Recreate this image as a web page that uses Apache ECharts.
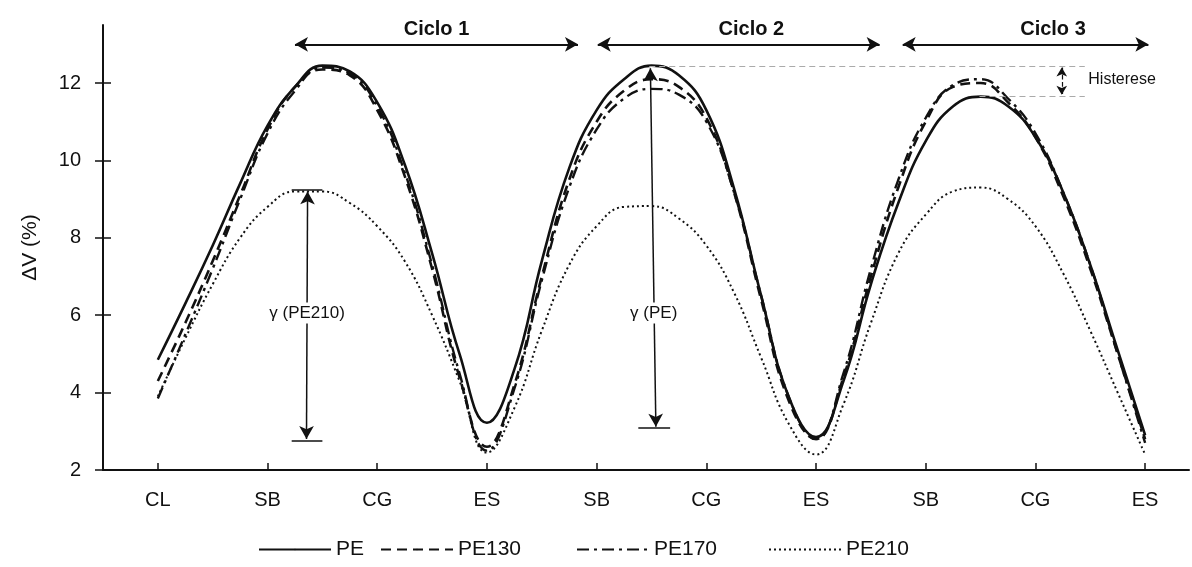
<!DOCTYPE html>
<html>
<head>
<meta charset="utf-8">
<script src="https://cdn.jsdelivr.net/npm/echarts@6/dist/echarts.min.js"></script>
<style>
  html, body { margin: 0; padding: 0; background: #fff; }
  #chart { width: 1192px; height: 567px; }
</style>
</head>
<body>
<div id="chart"></div>
<script>
// stage labels on the x axis (one per tick, 0..9)
var stages = ['CL', 'SB', 'CG', 'ES', 'SB', 'CG', 'ES', 'SB', 'CG', 'ES'];
// x positions of the read values (quarter steps between stages)
var xs = [0, 0.25, 0.5, 0.75, 1, 1.25, 1.5, 1.75, 2, 2.25, 2.5, 2.75, 3,
          3.25, 3.5, 3.75, 4, 4.25, 4.5, 4.75, 5, 5.25, 5.5, 5.75, 6,
          6.25, 6.5, 6.75, 7, 7.25, 7.5, 7.75, 8, 8.25, 8.5, 8.75, 9];
var yTicks = [2, 4, 6, 8, 10, 12];

// ΔV (%)
var pe    = [4.85, 6.3, 7.8, 9.4, 10.9, 11.9, 12.45, 12.3, 11.5, 9.9, 7.6, 5.0, 3.22,
             4.6, 7.4, 9.8, 11.3, 12.1, 12.45, 12.2, 11.3, 9.3, 6.5, 3.9, 2.85,
             4.3, 6.8, 8.9, 10.5, 11.4, 11.65, 11.4, 10.6, 9.2, 7.3, 5.1, 2.9];
var pe130 = [4.3, 5.8, 7.4, 9.1, 10.8, 11.9, 12.35, 12.2, 11.3, 9.6, 7.2, 4.4, 2.6,
             4.2, 7.0, 9.5, 11.0, 11.8, 12.1, 11.9, 11.1, 9.2, 6.4, 3.8, 2.8,
             4.4, 7.0, 9.3, 11.0, 11.9, 12.0, 11.5, 10.6, 9.1, 7.2, 5.0, 2.8];
var pe170 = [3.85, 5.5, 7.2, 9.0, 10.7, 11.8, 12.4, 12.25, 11.4, 9.7, 7.3, 4.5, 2.5,
             4.1, 6.9, 9.3, 10.8, 11.6, 11.85, 11.7, 11.0, 9.2, 6.5, 3.9, 2.8,
             4.5, 7.2, 9.5, 11.1, 11.95, 12.1, 11.6, 10.7, 9.2, 7.3, 5.0, 2.7];
var pe210 = [3.9, 5.4, 6.8, 8.0, 8.8, 9.2, 9.2, 8.9, 8.3, 7.4, 6.0, 4.3, 2.45,
             3.6, 5.6, 7.3, 8.3, 8.8, 8.82, 8.5, 7.8, 6.6, 4.9, 3.2, 2.4,
             3.7, 5.8, 7.6, 8.6, 9.2, 9.3, 9.0, 8.3, 7.1, 5.6, 4.0, 2.4];

function pairs(vals) {
  return xs.map(function (x, i) { return [x, vals[i]]; });
}

var ink = '#111';
var font = '"Liberation Sans", Arial, sans-serif';

function curve(name, vals, type, width) {
  return {
    name: name,
    type: 'line',
    data: pairs(vals),
    smooth: 0.45,
    showSymbol: false,
    symbol: 'none',
    lineStyle: { color: ink, width: width, type: type, cap: 'butt' },
    itemStyle: { color: ink },
    z: 3
  };
}

function seg(x1, y1, x2, y2, s1, s2, style) {
  return [
    { coord: [x1, y1], symbol: s1 },
    { coord: [x2, y2], symbol: s2, lineStyle: style }
  ];
}

var arrowStyle = { color: ink, width: 2, type: 'solid' };
var thinStyle = { color: ink, width: 1.5, type: 'solid' };
var capStyle = { color: ink, width: 1.5, type: 'solid' };
var greyDash = { color: '#aaa', width: 1, type: [6, 4] };

function note(x, y, text, size, bold) {
  return {
    coord: [x, y],
    value: text,
    label: {
      show: true, position: 'inside', formatter: text,
      fontFamily: font, fontSize: size, fontWeight: bold ? 'bold' : 'normal',
      color: ink, backgroundColor: bold ? 'transparent' : '#fff', padding: [2, 1]
    }
  };
}

var series = [
  curve('PE', pe, 'solid', 2.6),
  curve('PE130', pe130, [10, 6], 2.6),
  curve('PE170', pe170, [12, 5, 3, 5], 2.4),
  curve('PE210', pe210, [2, 3], 2),
  {
    name: 'notes',
    type: 'line',
    data: [],
    silent: true,
    z: 4,
    markLine: {
      silent: true,
      animation: false,
      symbolSize: [11, 13],
      label: { show: false },
      emphasis: { disabled: true },
      data: [
        // cycle arrows
        seg(1.25, 13.0, 3.83, 13.0, 'arrow', 'arrow', arrowStyle),
        seg(4.01, 13.0, 6.58, 13.0, 'arrow', 'arrow', arrowStyle),
        seg(6.79, 13.0, 9.03, 13.0, 'arrow', 'arrow', arrowStyle),
        // gamma PE210
        seg(1.365, 9.2, 1.355, 2.8, 'arrow', 'arrow', thinStyle),
        seg(1.22, 9.25, 1.50, 9.25, 'none', 'none', capStyle),
        seg(1.22, 2.76, 1.50, 2.76, 'none', 'none', capStyle),
        // gamma PE
        seg(4.49, 12.38, 4.54, 3.12, 'arrow', 'arrow', thinStyle),
        seg(4.38, 3.09, 4.67, 3.09, 'none', 'none', capStyle),
        // hysteresis
        seg(4.48, 12.43, 8.45, 12.43, 'none', 'none', greyDash),
        seg(7.49, 11.67, 8.45, 11.67, 'none', 'none', greyDash),
        [
          { coord: [8.24, 12.4], symbol: 'arrow', symbolSize: [8, 9] },
          { coord: [8.24, 11.7], symbol: 'arrow', symbolSize: [8, 9], lineStyle: { color: ink, width: 1.2 } }
        ]
      ]
    },
    markPoint: {
      silent: true,
      animation: false,
      symbol: 'circle',
      symbolSize: 1,
      itemStyle: { color: 'rgba(0,0,0,0)' },
      data: [
        note(2.54, 13.38, 'Ciclo 1', 20, true),
        note(5.41, 13.38, 'Ciclo 2', 20, true),
        note(8.16, 13.38, 'Ciclo 3', 20, true),
        note(1.36, 6.06, 'γ (PE210)', 17, false),
        note(4.52, 6.06, 'γ (PE)', 17, false),
        {
          coord: [8.79, 12.1], value: 'Histerese',
          label: { show: true, position: 'inside', formatter: 'Histerese',
                   fontFamily: font, fontSize: 16, color: ink }
        }
      ]
    }
  }
];

function legendAt(name, left) {
  return {
    data: [name],
    left: left,
    top: 539,
    padding: 0,
    itemWidth: 72,
    itemHeight: 2,
    itemGap: 0,
    selectedMode: false,
    textStyle: { fontFamily: font, fontSize: 21, color: ink }
  };
}

var chart = echarts.init(document.getElementById('chart'));
var option = {
  animation: false,
  backgroundColor: '#fff',
  textStyle: { fontFamily: font },
  grid: { left: 103, right: 3, top: 25, bottom: 97 },
  legend: [
    legendAt('PE', 258),
    legendAt('PE130', 380),
    legendAt('PE170', 576),
    legendAt('PE210', 768)
  ],
  xAxis: {
    type: 'value',
    min: -0.5,
    max: 9.4,
    splitLine: { show: false },
    axisLine: { onZero: false, lineStyle: { color: ink, width: 2 } },
    axisTick: {
      inside: true, length: 7,
      customValues: stages.map(function (s, i) { return i; }),
      lineStyle: { color: ink, width: 1.5 }
    },
    axisLabel: {
      customValues: stages.map(function (s, i) { return i; }),
      formatter: function (v) { return stages[Math.round(v)]; },
      fontFamily: font, fontSize: 20, color: ink, margin: 20
    }
  },
  yAxis: [
    {
      type: 'value',
      min: 2,
      max: 13.5,
      interval: 2,
      name: 'ΔV (%)',
      nameLocation: 'middle',
      nameGap: 62,
      nameTextStyle: { fontFamily: font, fontSize: 21, color: ink },
      splitLine: { show: false },
      axisLine: { show: true, onZero: false, lineStyle: { color: ink, width: 2 } },
      axisTick: { show: true, length: 8, customValues: yTicks, lineStyle: { color: ink, width: 1.5 } },
      axisLabel: { fontFamily: font, fontSize: 20, color: ink, margin: 22, customValues: yTicks }
    },
    {
      type: 'value',
      min: 2,
      max: 13.5,
      interval: 2,
      position: 'left',
      splitLine: { show: false },
      axisLine: { show: false, onZero: false },
      axisTick: { show: true, inside: true, length: 8, customValues: yTicks, lineStyle: { color: ink, width: 1.5 } },
      axisLabel: { show: false }
    }
  ],
  series: series
};
chart.setOption(option);
window.addEventListener('resize', function () {
  chart.resize();
});
</script>
</body>
</html>
